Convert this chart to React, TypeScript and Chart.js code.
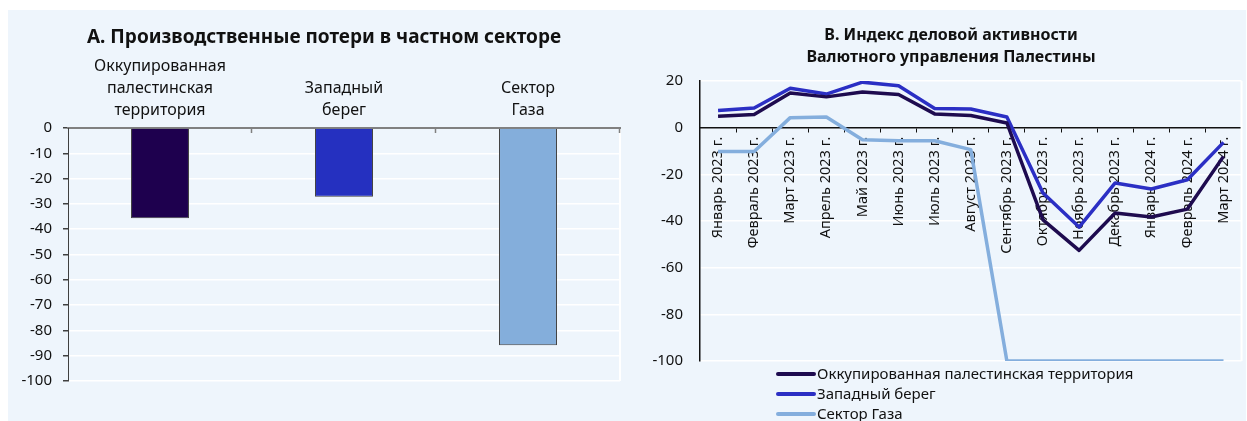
import React, { useEffect, useRef } from "react";
import { Chart, registerables } from "chart.js";

Chart.register(...registerables);

// ---------- DATA ----------
const titleA = "А. Производственные потери в частном секторе";
const categoriesA: string[][] = [
  ["Оккупированная", "палестинская", "территория"],
  ["Западный", "берег"],
  ["Сектор", "Газа"],
];
const valuesA = [-35.7, -27.2, -85.9];
const colorsA = ["#1E004E", "#2530C0", "#84AEDB"];

const titleB = ["В. Индекс деловой активности", "Валютного управления Палестины"];
const months = [
  "Январь 2023 г.",
  "Февраль 2023 г.",
  "Март 2023 г.",
  "Апрель 2023 г.",
  "Май 2023 г.",
  "Июнь 2023 г.",
  "Июль 2023 г.",
  "Август 2023 г.",
  "Сентябрь 2023 г.",
  "Октябрь 2023 г.",
  "Ноябрь 2023 г.",
  "Декабрь 2023 г.",
  "Январь 2024 г.",
  "Февраль 2024 г.",
  "Март 2024 г.",
];
const seriesNames = ["Оккупированная палестинская территория", "Западный берег", "Сектор Газа"];
const opt = [4.9, 5.6, 14.9, 13.2, 15.3, 14.2, 5.9, 5.2, 2.0, -39.5, -52.6, -36.6, -38.3, -34.9, -12.3];
const westBank = [7.4, 8.4, 16.9, 14.4, 19.5, 18.0, 8.2, 8.0, 4.6, -28.0, -42.6, -23.7, -26.3, -22.3, -6.3];
const gaza = [-10.2, -10.2, 4.3, 4.6, -5.2, -5.6, -5.6, -9.4, -100, -100, -100, -100, -100, -100, -100];
const lineColors = ["#1E0B4F", "#2B2FC4", "#84AEDD"];

const FONT = "'Noto Sans', 'Open Sans', sans-serif";

const gridColorFn = (c: any) => (c.tick && c.tick.value === 0 ? "rgba(0,0,0,0)" : "#ffffff");

function drawTitle(ctx: CanvasRenderingContext2D, lines: string[], cx: number, y0: number, lh: number, size: number) {
  ctx.save();
  ctx.font = `bold ${size}px ${FONT}`;
  ctx.fillStyle = "#111111";
  ctx.textAlign = "center";
  ctx.textBaseline = "middle";
  lines.forEach((t, i) => ctx.fillText(t, cx, y0 + i * lh));
  ctx.restore();
}

const panelAPlugin = {
  id: "panelAExtras",
  afterDatasetsDraw(chart: any) {
    const { ctx, chartArea } = chart;
    const x = chart.scales.x;
    ctx.save();
    ctx.strokeStyle = "#ffffff";
    ctx.lineWidth = 2;
    ctx.beginPath();
    ctx.moveTo(chartArea.right, chartArea.top + 2);
    ctx.lineTo(chartArea.right, chartArea.bottom);
    ctx.stroke();
    ctx.strokeStyle = "#808080";
    ctx.lineWidth = 1.5;
    const n = x.ticks.length;
    const w = (chartArea.right - chartArea.left) / n;
    for (let i = 1; i <= n; i++) {
      const px = Math.round(chartArea.left + i * w) - 0.5;
      ctx.beginPath();
      ctx.moveTo(px, chartArea.top);
      ctx.lineTo(px, chartArea.top + 5);
      ctx.stroke();
    }
    ctx.restore();
    drawTitle(ctx, [titleA], chart.width / 2, 28, 0, 19);
  },
};

const panelBPlugin = {
  id: "panelBExtras",
  beforeDatasetsDraw(chart: any) {
    const { ctx, chartArea } = chart;
    ctx.save();
    ctx.strokeStyle = "#ffffff";
    ctx.lineWidth = 2;
    ctx.beginPath();
    ctx.moveTo(chartArea.right, chartArea.top);
    ctx.lineTo(chartArea.right, chartArea.bottom);
    ctx.stroke();
    ctx.restore();
  },
  afterDraw(chart: any) {
    const { ctx, chartArea } = chart;
    drawTitle(ctx, titleB, chart.width / 2 + 8, 25, 22, 16);
    ctx.save();
    const x0 = chartArea.left + 78;
    const x1 = x0 + 36;
    ctx.font = `15px ${FONT}`;
    ctx.textBaseline = "middle";
    ctx.textAlign = "left";
    chart.data.datasets.forEach((ds: any, i: number) => {
      const y = chartArea.bottom + 13 + i * 20;
      ctx.strokeStyle = ds.borderColor;
      ctx.lineWidth = 4;
      ctx.lineCap = "round";
      ctx.beginPath();
      ctx.moveTo(x0, y);
      ctx.lineTo(x1, y);
      ctx.stroke();
      ctx.fillStyle = "#111111";
      ctx.fillText(ds.label, x1 + 3, y + 1);
    });
    ctx.restore();
  },
};

export default function App() {
  const refA = useRef<HTMLCanvasElement>(null);
  const refB = useRef<HTMLCanvasElement>(null);

  useEffect(() => {
    document.body.style.overflow = "hidden";
    const chartA = new Chart(refA.current!, {
      type: "bar",
      data: {
        labels: categoriesA as any,
        datasets: [
          {
            data: valuesA,
            backgroundColor: colorsA,
            borderColor: "#404040",
            borderWidth: 1,
            categoryPercentage: 1,
            barPercentage: 0.315,
          },
        ],
      },
      options: {
        animation: false,
        responsive: false,
        devicePixelRatio: 1,
        layout: { padding: { left: 0, right: 20, top: 38, bottom: 40 } },
        plugins: {
          legend: { display: false },
          tooltip: { enabled: false },
          title: { display: false },
        },
        scales: {
          x: {
            position: "top",
            grid: { display: true, drawOnChartArea: false, drawTicks: false, offset: true },
            border: { display: true, color: "#808080", width: 2 },
            ticks: {
              color: "#111111",
              padding: 7,
              font: { family: FONT, size: 16, lineHeight: 1.375 },
              maxRotation: 0,
              autoSkip: false,
            },
            afterFit: (s: any) => {
              s.height = 80;
            },
          },
          y: {
            min: -100,
            max: 0,
            ticks: {
              stepSize: 10,
              color: "#111111",
              padding: 11,
              font: { family: FONT, size: 15 },
            },
            grid: { color: gridColorFn, lineWidth: 1.5, tickColor: "#404040", tickLength: 5, drawTicks: true },
            border: { display: true, color: "#404040", width: 1 },
            afterFit: (s: any) => {
              s.width = 60;
            },
          },
        },
      } as any,
      plugins: [panelAPlugin],
    });

    const chartB = new Chart(refB.current!, {
      type: "line",
      data: {
        labels: months,
        datasets: [
          { label: seriesNames[0], data: opt, borderColor: lineColors[0], backgroundColor: lineColors[0] },
          { label: seriesNames[1], data: westBank, borderColor: lineColors[1], backgroundColor: lineColors[1] },
          { label: seriesNames[2], data: gaza, borderColor: lineColors[2], backgroundColor: lineColors[2] },
        ].map((d) => ({ ...d, borderWidth: 3.5, pointRadius: 0, tension: 0, borderJoinStyle: "round" as const })),
      },
      options: {
        animation: false,
        responsive: false,
        devicePixelRatio: 1,
        layout: { padding: { left: 0, right: 3, top: 71, bottom: 60 } },
        plugins: {
          legend: { display: false },
          tooltip: { enabled: false },
          title: { display: false },
        },
        scales: {
          x: {
            position: { y: 0 },
            offset: true,
            grid: { display: true, drawOnChartArea: false, drawTicks: true, tickLength: 4, offset: true, tickColor: "#111111", tickWidth: 1 },
            border: { display: true, color: "#111111", width: 1.5 },
            ticks: {
              color: "#111111",
              padding: 5,
              font: { family: FONT, size: 14.5 },
              maxRotation: 90,
              minRotation: 90,
              autoSkip: false,
            },
          },
          y: {
            min: -100,
            max: 20,
            ticks: {
              stepSize: 20,
              color: "#111111",
              padding: 17,
              font: { family: FONT, size: 15 },
            },
            grid: { color: gridColorFn, lineWidth: 1.5, drawTicks: false },
            border: { display: true, color: "#111111", width: 1.5 },
            afterFit: (s: any) => {
              s.width = 60;
            },
          },
        },
      } as any,
      plugins: [panelBPlugin],
    });

    return () => {
      chartA.destroy();
      chartB.destroy();
    };
  }, []);

  return (
    <div
      style={{
        position: "absolute",
        left: 8,
        top: 10,
        width: 1238,
        height: 411,
        background: "#EEF5FC",
        overflow: "hidden",
      }}
    >
      <canvas
        ref={refA}
        width={632}
        height={411}
        style={{ position: "absolute", left: 0, top: 0, width: 632, height: 411 }}
      />
      <canvas
        ref={refB}
        width={606}
        height={411}
        style={{ position: "absolute", left: 632, top: 0, width: 606, height: 411 }}
      />
    </div>
  );
}
